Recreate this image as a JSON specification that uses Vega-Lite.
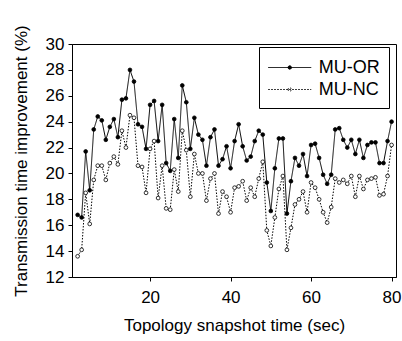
{
  "$schema": "https://vega.github.io/schema/vega-lite/v6.json",
  "width": 324,
  "height": 233,
  "autosize": {"type": "none"},
  "padding": {"left": 72, "top": 44, "right": 6, "bottom": 64},
  "background": "white",
  "config": {
    "font": "Liberation Sans",
    "view": {"stroke": "black", "strokeWidth": 1},
    "axis": {"domainColor": "black", "tickColor": "black", "labelColor": "black", "titleColor": "black", "grid": false, "labelFontSize": 17, "titleFontSize": 17, "titleFontWeight": "normal", "tickSize": 4, "labelFont": "Liberation Sans", "titleFont": "Liberation Sans"},
    "legend": {"orient": "none", "legendX": 187, "legendY": 3, "title": null, "fillColor": "white", "strokeColor": "black", "padding": 9, "labelFontSize": 18, "labelFont": "Liberation Sans", "labelColor": "black", "labelExpr": "datum.label + ' '", "symbolType": "M-2,0H2M-0.16,0A0.16,0.16 0 1,1 0.16,0A0.16,0.16 0 1,1 -0.16,0", "symbolSize": 462, "symbolStrokeColor": "black", "symbolStrokeWidth": 1, "symbolOffset": 10.25, "labelOffset": 17.5, "rowPadding": 1}
  },
  "data": {"values": [
    {"t": 2, "MU-OR": 16.8, "MU-NC": 13.6},
    {"t": 3, "MU-OR": 16.6, "MU-NC": 14.1},
    {"t": 4, "MU-OR": 21.7, "MU-NC": 18.5},
    {"t": 5, "MU-OR": 18.7, "MU-NC": 16.1},
    {"t": 6, "MU-OR": 23.4, "MU-NC": 19.5},
    {"t": 7, "MU-OR": 24.4, "MU-NC": 20.6},
    {"t": 8, "MU-OR": 24.1, "MU-NC": 20.6},
    {"t": 9, "MU-OR": 22.6, "MU-NC": 19.5},
    {"t": 10, "MU-OR": 23.6, "MU-NC": 20.8},
    {"t": 11, "MU-OR": 24.2, "MU-NC": 21.3},
    {"t": 12, "MU-OR": 22.8, "MU-NC": 20.7},
    {"t": 13, "MU-OR": 25.7, "MU-NC": 23.3},
    {"t": 14, "MU-OR": 25.8, "MU-NC": 22.0},
    {"t": 15, "MU-OR": 28.0, "MU-NC": 24.5},
    {"t": 16, "MU-OR": 27.1, "MU-NC": 24.3},
    {"t": 17, "MU-OR": 23.8, "MU-NC": 20.6},
    {"t": 18, "MU-OR": 23.6, "MU-NC": 20.5},
    {"t": 19, "MU-OR": 21.9, "MU-NC": 18.5},
    {"t": 20, "MU-OR": 25.3, "MU-NC": 21.9},
    {"t": 21, "MU-OR": 25.6, "MU-NC": 22.5},
    {"t": 22, "MU-OR": 22.5, "MU-NC": 18.1},
    {"t": 23, "MU-OR": 25.3, "MU-NC": 20.6},
    {"t": 24, "MU-OR": 20.8, "MU-NC": 17.3},
    {"t": 25, "MU-OR": 20.2, "MU-NC": 17.2},
    {"t": 26, "MU-OR": 24.2, "MU-NC": 20.3},
    {"t": 27, "MU-OR": 21.2, "MU-NC": 18.6},
    {"t": 28, "MU-OR": 26.8, "MU-NC": 23.3},
    {"t": 29, "MU-OR": 25.5, "MU-NC": 21.8},
    {"t": 30, "MU-OR": 21.9, "MU-NC": 18.2},
    {"t": 31, "MU-OR": 24.3, "MU-NC": 21.5},
    {"t": 32, "MU-OR": 23.0, "MU-NC": 20.0},
    {"t": 33, "MU-OR": 22.6, "MU-NC": 20.0},
    {"t": 34, "MU-OR": 20.6, "MU-NC": 17.9},
    {"t": 35, "MU-OR": 22.8, "MU-NC": 19.6},
    {"t": 36, "MU-OR": 23.4, "MU-NC": 20.0},
    {"t": 37, "MU-OR": 20.6, "MU-NC": 16.9},
    {"t": 38, "MU-OR": 21.1, "MU-NC": 18.6},
    {"t": 39, "MU-OR": 22.1, "MU-NC": 18.2},
    {"t": 40, "MU-OR": 20.4, "MU-NC": 17.0},
    {"t": 41, "MU-OR": 22.5, "MU-NC": 18.9},
    {"t": 42, "MU-OR": 23.8, "MU-NC": 19.0},
    {"t": 43, "MU-OR": 22.1, "MU-NC": 19.4},
    {"t": 44, "MU-OR": 21.0, "MU-NC": 17.9},
    {"t": 45, "MU-OR": 21.3, "MU-NC": 18.9},
    {"t": 46, "MU-OR": 22.5, "MU-NC": 18.2},
    {"t": 47, "MU-OR": 23.3, "MU-NC": 19.6},
    {"t": 48, "MU-OR": 23.0, "MU-NC": 20.9},
    {"t": 49, "MU-OR": 19.3, "MU-NC": 15.6},
    {"t": 50, "MU-OR": 17.1, "MU-NC": 14.4},
    {"t": 51, "MU-OR": 20.4, "MU-NC": 16.6},
    {"t": 52, "MU-OR": 22.7, "MU-NC": 18.8},
    {"t": 53, "MU-OR": 22.7, "MU-NC": 19.8},
    {"t": 54, "MU-OR": 16.9, "MU-NC": 14.1},
    {"t": 55, "MU-OR": 19.4, "MU-NC": 15.8},
    {"t": 56, "MU-OR": 21.2, "MU-NC": 17.6},
    {"t": 57, "MU-OR": 20.6, "MU-NC": 18.0},
    {"t": 58, "MU-OR": 21.5, "MU-NC": 18.6},
    {"t": 59, "MU-OR": 19.8, "MU-NC": 17.0},
    {"t": 60, "MU-OR": 22.2, "MU-NC": 19.3},
    {"t": 61, "MU-OR": 22.3, "MU-NC": 18.9},
    {"t": 62, "MU-OR": 21.2, "MU-NC": 18.0},
    {"t": 63, "MU-OR": 19.9, "MU-NC": 17.0},
    {"t": 64, "MU-OR": 19.2, "MU-NC": 16.2},
    {"t": 65, "MU-OR": 19.9, "MU-NC": 17.4},
    {"t": 66, "MU-OR": 23.4, "MU-NC": 19.6},
    {"t": 67, "MU-OR": 23.5, "MU-NC": 19.3},
    {"t": 68, "MU-OR": 22.6, "MU-NC": 19.5},
    {"t": 69, "MU-OR": 22.0, "MU-NC": 19.2},
    {"t": 70, "MU-OR": 22.6, "MU-NC": 19.8},
    {"t": 71, "MU-OR": 21.5, "MU-NC": 18.2},
    {"t": 72, "MU-OR": 22.6, "MU-NC": 19.8},
    {"t": 73, "MU-OR": 21.2, "MU-NC": 18.8},
    {"t": 74, "MU-OR": 22.2, "MU-NC": 19.5},
    {"t": 75, "MU-OR": 22.4, "MU-NC": 19.6},
    {"t": 76, "MU-OR": 22.4, "MU-NC": 19.7},
    {"t": 77, "MU-OR": 20.8, "MU-NC": 18.3},
    {"t": 78, "MU-OR": 20.8, "MU-NC": 18.4},
    {"t": 79, "MU-OR": 22.5, "MU-NC": 19.8},
    {"t": 80, "MU-OR": 24.0, "MU-NC": 22.2}
  ]},
  "transform": [{"fold": ["MU-OR", "MU-NC"], "as": ["series", "v"]}],
  "encoding": {
    "x": {"field": "t", "type": "quantitative", "scale": {"domain": [0.6, 81.1], "nice": false, "zero": false}, "axis": {"values": [20, 40, 60, 80], "title": "Topology snapshot time (sec)", "labelPadding": 8, "titlePadding": 12}},
    "y": {"field": "v", "type": "quantitative", "scale": {"domain": [12, 30], "nice": false, "zero": false}, "axis": {"values": [12, 14, 16, 18, 20, 22, 24, 26, 28, 30], "title": "Transmission time improvement (%)", "labelPadding": 4, "titlePadding": 15}}
  },
  "layer": [
    {
      "mark": {"type": "line", "strokeWidth": 1, "color": "black"},
      "encoding": {
        "strokeDash": {"field": "series", "type": "nominal", "scale": {"domain": ["MU-OR", "MU-NC"], "range": [[1, 0], [1.5, 1.5]]}, "legend": {"title": null}}
      }
    },
    {
      "mark": {"type": "point", "filled": true, "stroke": "black", "strokeWidth": 0.8, "size": 14, "opacity": 1},
      "encoding": {
        "fill": {"field": "series", "type": "nominal", "scale": {"domain": ["MU-OR", "MU-NC"], "range": ["black", "white"]}, "legend": {"title": null}}
      }
    }
  ]
}
